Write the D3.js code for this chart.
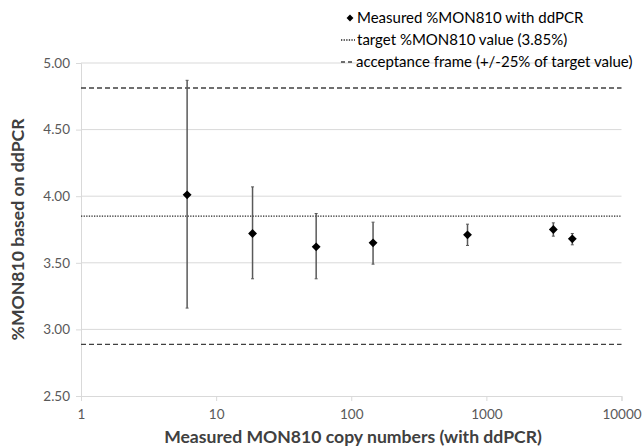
<!DOCTYPE html>
<html><head><meta charset="utf-8">
<script src="https://cdn.jsdelivr.net/npm/d3@7"></script>
<style>body{margin:0;background:#fff}svg{display:block}text{font-family:Lato,"Open Sans",sans-serif}</style>
</head><body><svg id="c" width="642" height="448"></svg>
<script>
const copyNumbers = [6.1, 18.6, 55, 145, 725, 3130, 4325];
const measured = [4.01, 3.72, 3.62, 3.65, 3.71, 3.75, 3.68];
const errLow = [3.16, 3.38, 3.38, 3.49, 3.63, 3.70, 3.635];
const errHigh = [4.87, 4.07, 3.87, 3.805, 3.79, 3.80, 3.72];
const targetValue = 3.85;
const acceptance = 0.25;
const yTicks = [2.5, 3.0, 3.5, 4.0, 4.5, 5.0];
const xTicks = [1, 10, 100, 1000, 10000];
const legendLabels = ["Measured %MON810 with ddPCR", "target %MON810 value (3.85%)", "acceptance frame (+/-25% of target value)"];

const svg = d3.select("#c");
const L = 81, R = 621.5, T = 63, B = 396;
const x = d3.scaleLog().domain([1, 10000]).range([L, R]);
const y = d3.scaleLinear().domain([2.5, 5]).range([B, T]);

// gridlines
svg.append("g").selectAll("line").data(yTicks.filter(d => d > 2.5)).join("line")
  .attr("x1", L).attr("x2", R).attr("y1", d => y(d)).attr("y2", d => y(d))
  .attr("stroke", "#d9d9d9").attr("stroke-width", 1);

// y axis
const ya = svg.append("g").attr("transform", `translate(${L},0)`)
  .call(d3.axisLeft(y).tickValues(yTicks).tickFormat(d3.format(".2f")).tickSize(5).tickPadding(6));
ya.select(".domain").attr("stroke", "#d9d9d9");
ya.selectAll(".tick line").attr("stroke", "#d9d9d9");
ya.selectAll(".tick text").attr("font-size", 13.5).attr("fill", "#595959").attr("font-family", "Lato");

// x axis
const xa = svg.append("g").attr("transform", `translate(0,${B})`)
  .call(d3.axisBottom(x).tickValues(xTicks).tickFormat(d3.format("d")).tickSize(5).tickPadding(8));
xa.select(".domain").attr("stroke", "#d9d9d9");
xa.selectAll(".tick line").attr("stroke", "#d9d9d9");
xa.selectAll(".tick text").attr("font-size", 13.5).attr("fill", "#595959").attr("font-family", "Lato");

// reference lines
svg.append("line").attr("x1", L).attr("x2", R).attr("y1", y(targetValue)).attr("y2", y(targetValue))
  .attr("stroke", "#262626").attr("stroke-width", 1.3).attr("stroke-dasharray", "1.3,1.3");
[1 - acceptance, 1 + acceptance].forEach(f => {
  svg.append("line").attr("x1", L).attr("x2", R).attr("y1", y(targetValue * f)).attr("y2", y(targetValue * f))
    .attr("stroke", "#404040").attr("stroke-width", 1.3).attr("stroke-dasharray", "5,3");
});

// error bars
const pts = copyNumbers.map((c, i) => ({c, v: measured[i], lo: errLow[i], hi: errHigh[i]}));
const eg = svg.append("g");
eg.selectAll("line.v").data(pts).join("line").attr("class", "v")
  .attr("x1", d => x(d.c)).attr("x2", d => x(d.c)).attr("y1", d => y(d.lo)).attr("y2", d => y(d.hi))
  .attr("stroke", "#595959").attr("stroke-width", 1.5);
["lo", "hi"].forEach(k => {
  eg.selectAll("line." + k).data(pts).join("line").attr("class", k)
    .attr("x1", d => x(d.c) - 1.5).attr("x2", d => x(d.c) + 1.5).attr("y1", d => y(d[k])).attr("y2", d => y(d[k]))
    .attr("stroke", "#595959").attr("stroke-width", 1);
});

// markers
const diamond = d3.symbol().type(d3.symbolDiamond2).size(50);
svg.append("g").selectAll("path").data(pts).join("path")
  .attr("transform", d => `translate(${x(d.c)},${y(d.v)})`).attr("d", diamond).attr("fill", "#000");

// legend
const lg = svg.append("g").attr("font-size", 15).attr("fill", "#000");
const ly = [18, 40, 62];
lg.append("path").attr("transform", `translate(350,${ly[0]})`).attr("d", d3.symbol().type(d3.symbolDiamond2).size(30)).attr("fill", "#000");
lg.append("line").attr("x1", 341).attr("x2", 355).attr("y1", ly[1]).attr("y2", ly[1])
  .attr("stroke", "#262626").attr("stroke-width", 1.3).attr("stroke-dasharray", "1.3,1.3");
lg.append("line").attr("x1", 341).attr("x2", 353).attr("y1", ly[2]).attr("y2", ly[2])
  .attr("stroke", "#404040").attr("stroke-width", 1.3).attr("stroke-dasharray", "4,3");
const lx = [357, 357, 356];
legendLabels.forEach((t, i) => {
  lg.append("text").attr("x", lx[i]).attr("y", ly[i]).attr("dy", "0.35em").text(t);
});

// axis titles
svg.append("text").attr("x", 353).attr("y", 443).attr("text-anchor", "middle")
  .attr("font-size", 17.6).attr("font-weight", "bold").attr("fill", "#404040").text("Measured MON810 copy numbers (with ddPCR)");
svg.append("text").attr("transform", `translate(24,${(T + B) / 2}) rotate(-90)`).attr("text-anchor", "middle")
  .attr("font-size", 17.6).attr("font-weight", "bold").attr("fill", "#404040").text("%MON810 based on ddPCR");
</script></body></html>
